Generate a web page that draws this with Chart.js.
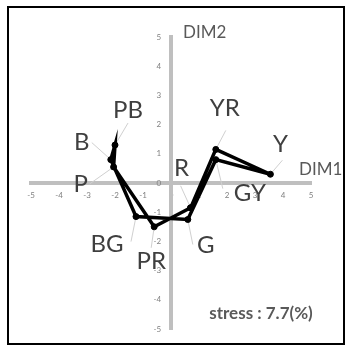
<!DOCTYPE html>
<html>
<head>
<meta charset="utf-8">
<script src="https://cdn.jsdelivr.net/npm/chart.js@4/dist/chart.umd.min.js"></script>
<style>
  html, body { margin: 0; padding: 0; background: #ffffff; }
  #wrap { width: 345px; height: 347px; position: relative; }
</style>
</head>
<body>
<div id="wrap"><canvas id="mds" width="345" height="347"></canvas></div>
<script>
// Hue categories around the colour circle (path is closed back to the first one)
const hues = ['R', 'YR', 'Y', 'GY', 'G', 'BG', 'B', 'PB', 'P', 'PR'];
// MDS configuration coordinates
const dim1 = [0.7, 1.6, 3.55, 1.6, 0.6, -1.25, -2.15, -2.0, -2.05, -0.6];
const dim2 = [-0.85, 1.15, 0.3, 0.8, -1.25, -1.15, 0.8, 1.3, 0.55, -1.5];
// Axis tick values
const tickValues = [-5, -4, -3, -2, -1, 0, 1, 2, 3, 4, 5];
const stressText = 'stress : 7.7(%)';

// Label placement: offset of the text centre and of the leader end from each point (px)
const labelPlacement = {
  R:  { tx: -9,  ty: -40, lx: -10, ly: -22 },
  YR: { tx: 9,   ty: -41, lx: 10,  ly: -19 },
  Y:  { tx: 10,  ty: -30, lx: 12,  ly: -14 },
  GY: { tx: 34,  ty: 34,  lx: 7,   ly: 29 },
  G:  { tx: 18,  ty: 26,  lx: 5,   ly: 25 },
  BG: { tx: -29, ty: 28,  lx: -5,  ly: 25 },
  B:  { tx: -29, ty: -17, lx: -19, ly: -17 },
  PB: { tx: 13,  ty: -35, lx: 13,  ly: -22 },
  P:  { tx: -33, ty: 17,  lx: -24, ly: 17 },
  PR: { tx: -3,  ty: 34,  lx: -3,  ly: 21 }
};

const points = hues.map((h, i) => ({ x: dim1[i], y: dim2[i], hue: h }));
const loop = points.concat([points[0]]);

const AXIS_GREY = '#bfbfbf';
const TICK_GREY = '#808080';
const TEXT_GREY = '#3f3f3f';
const TITLE_GREY = '#595959';
const FONT = 'Lato, "Open Sans", sans-serif';

const decor = {
  id: 'decor',
  beforeDraw(chart) {
    const ctx = chart.ctx;
    ctx.save();
    ctx.fillStyle = '#ffffff';
    ctx.fillRect(0, 0, chart.width, chart.height);
    ctx.strokeStyle = '#000000';
    ctx.lineWidth = 2;
    ctx.strokeRect(8, 7, 336, 337);
    ctx.restore();
  },
  beforeDatasetsDraw(chart) {
    const ctx = chart.ctx;
    const meta = chart.getDatasetMeta(0);
    ctx.save();
    ctx.strokeStyle = '#d0d0d0';
    ctx.lineWidth = 1;
    hues.forEach((h, i) => {
      const el = meta.data[i];
      const p = labelPlacement[h];
      ctx.beginPath();
      ctx.moveTo(el.x, el.y);
      ctx.lineTo(el.x + p.lx, el.y + p.ly);
      ctx.stroke();
    });
    ctx.restore();
  },
  afterDatasetsDraw(chart) {
    const ctx = chart.ctx;
    const meta = chart.getDatasetMeta(0);
    const xs = chart.scales.x, ys = chart.scales.y;
    ctx.save();
    ctx.textAlign = 'center';
    ctx.textBaseline = 'middle';
    ctx.fillStyle = TEXT_GREY;
    ctx.font = '24px ' + FONT;
    hues.forEach((h, i) => {
      const el = meta.data[i];
      const p = labelPlacement[h];
      ctx.fillText(h, el.x + p.tx, el.y + p.ty);
    });

    // axis titles
    ctx.font = '17px ' + FONT;
    ctx.fillStyle = TITLE_GREY;
    ctx.textAlign = 'left';
    ctx.fillText('DIM2', xs.getPixelForValue(0) + 12, ys.getPixelForValue(5) - 4);
    ctx.fillText('DIM1', xs.getPixelForValue(5) - 12, ys.getPixelForValue(0) - 13);

    // stress value
    ctx.font = 'bold 17px ' + FONT;
    ctx.textAlign = 'center';
    ctx.fillText(stressText, chart.chartArea.right - 50, chart.chartArea.bottom - 15);
    ctx.restore();
  }
};

const tickFont = { family: FONT, size: 8 };
const fixedTicks = scale => { scale.ticks = tickValues.map(v => ({ value: v })); };

new Chart(document.getElementById('mds'), {
  type: 'scatter',
  data: {
    datasets: [{
      data: loop,
      showLine: true,
      borderColor: '#000000',
      backgroundColor: '#000000',
      borderWidth: 3.5,
      pointRadius: 3,
      pointBorderWidth: 1,
      pointBorderColor: '#000000',
      pointBackgroundColor: '#000000',
      tension: 0
    }]
  },
  options: {
    responsive: false,
    animation: false,
    devicePixelRatio: 1,
    layout: { padding: { left: 31, right: 34, top: 37, bottom: 18 } },
    plugins: { legend: { display: false }, tooltip: { enabled: false } },
    scales: {
      x: {
        type: 'linear',
        position: { y: 0 },
        min: -5, max: 5,
        afterFit(scale) { scale.height = 0; },
        afterBuildTicks: fixedTicks,
        grid: { display: false, drawTicks: false },
        border: { display: true, color: AXIS_GREY, width: 4 },
        ticks: { font: tickFont, color: TICK_GREY, padding: 8, maxRotation: 0, autoSkip: false }
      },
      // vertical axis line through x = 0
      y: {
        type: 'linear',
        position: { x: 0 },
        min: -5, max: 5,
        afterFit(scale) { scale.width = 0; },
        afterBuildTicks: fixedTicks,
        grid: { display: false, drawTicks: false },
        border: { display: true, color: AXIS_GREY, width: 4 },
        ticks: { display: false }
      },
      // tick labels of the vertical axis, set just left of the axis line
      yLabels: {
        type: 'linear',
        axis: 'y',
        position: { x: -0.35 },
        min: -5, max: 5,
        afterFit(scale) { scale.width = 0; },
        afterBuildTicks: fixedTicks,
        grid: { display: false, drawTicks: false },
        border: { display: false },
        ticks: { font: tickFont, color: TICK_GREY, padding: 0, autoSkip: false }
      }
    }
  },
  plugins: [decor]
});
</script>
</body>
</html>
